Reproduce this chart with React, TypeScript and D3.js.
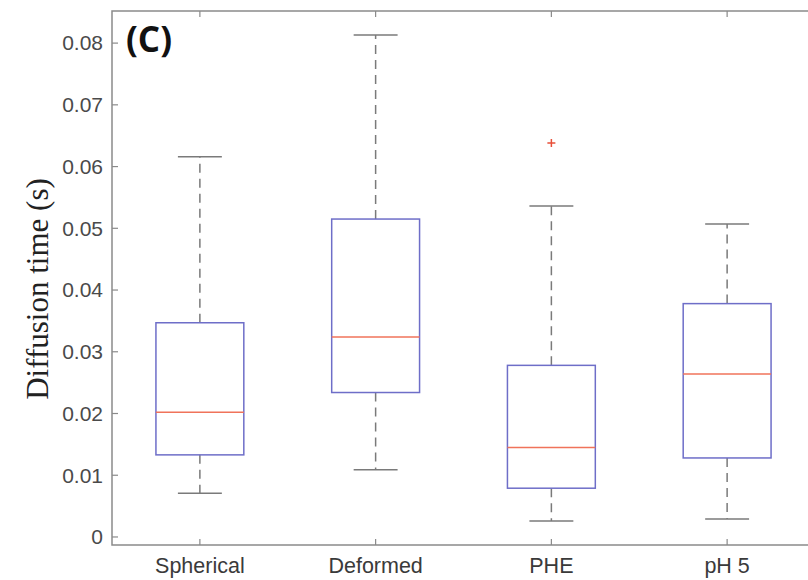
import { useEffect, useRef } from 'react';
import * as d3 from 'd3';

const categories = ['Spherical', 'Deformed', 'PHE', 'pH 5'];
const whiskerLow = [0.0071, 0.0109, 0.0026, 0.0029];
const q1 = [0.0133, 0.0234, 0.0079, 0.0128];
const median = [0.0202, 0.0324, 0.0145, 0.0264];
const q3 = [0.0347, 0.0515, 0.0278, 0.0378];
const whiskerHigh = [0.0616, 0.0813, 0.0536, 0.0507];
const outliers = [{ cat: 'PHE', value: 0.0638 }];
const yTicks = [0, 0.01, 0.02, 0.03, 0.04, 0.05, 0.06, 0.07, 0.08];

const W = 808;
const H = 580;

const App = () => {
  const svgRef = useRef<SVGSVGElement>(null);

  useEffect(() => {
    const svg = d3.select(svgRef.current);
    svg.selectAll('*').remove();

    const left = 112;
    const right = 815;
    const top = 11;
    const bottom = 545;

    // MATLAB boxplot: groups at 1..n, xlim [0.5, n+0.5]
    const x = d3.scaleLinear().domain([0.5, categories.length + 0.5]).range([left, right]);
    const y = d3.scaleLinear().domain([-0.0013, 0.0852]).range([bottom, top]);
    const boxW = x(1.5) - x(1);

    const axisColor = '#8a8a8a';
    const whiskerColor = '#7a7a7a';
    const boxColor = '#6e6ec8';
    const medColor = '#f0735a';
    const tickLen = 6;

    // frame
    svg.append('rect')
      .attr('x', left).attr('y', top)
      .attr('width', right - left).attr('height', bottom - top)
      .attr('fill', 'none').attr('stroke', axisColor).attr('stroke-width', 1.5);

    // y ticks (left and right, inward)
    yTicks.forEach(t => {
      svg.append('line')
        .attr('x1', left).attr('x2', left + tickLen)
        .attr('y1', y(t)).attr('y2', y(t))
        .attr('stroke', axisColor).attr('stroke-width', 1.2);
      svg.append('line')
        .attr('x1', right).attr('x2', right - tickLen)
        .attr('y1', y(t)).attr('y2', y(t))
        .attr('stroke', axisColor).attr('stroke-width', 1.2);
      svg.append('text')
        .attr('x', left - 9)
        .attr('y', y(t))
        .attr('dy', '0.35em')
        .attr('text-anchor', 'end')
        .attr('font-family', 'Liberation Sans, Arial, sans-serif')
        .attr('font-size', 21)
        .attr('fill', '#4a4a4a')
        .text(t === 0 ? '0' : d3.format('.2f')(t));
    });

    // x ticks (bottom and top, inward) + labels
    categories.forEach((c, i) => {
      const cx = x(i + 1);
      svg.append('line')
        .attr('x1', cx).attr('x2', cx)
        .attr('y1', bottom).attr('y2', bottom - tickLen)
        .attr('stroke', axisColor).attr('stroke-width', 1.2);
      svg.append('line')
        .attr('x1', cx).attr('x2', cx)
        .attr('y1', top).attr('y2', top + tickLen)
        .attr('stroke', axisColor).attr('stroke-width', 1.2);
      svg.append('text')
        .attr('x', cx)
        .attr('y', 573)
        .attr('text-anchor', 'middle')
        .attr('font-family', 'Liberation Sans, Arial, sans-serif')
        .attr('font-size', 21.5)
        .attr('fill', '#3a3a3a')
        .text(c);
    });

    // boxes
    categories.forEach((c, i) => {
      const cx = x(i + 1);
      const g = svg.append('g');

      // whiskers
      g.append('line')
        .attr('x1', cx).attr('x2', cx)
        .attr('y1', y(q3[i])).attr('y2', y(whiskerHigh[i]))
        .attr('stroke', whiskerColor).attr('stroke-width', 1.5)
        .attr('stroke-dasharray', '9,6');
      g.append('line')
        .attr('x1', cx).attr('x2', cx)
        .attr('y1', y(q1[i])).attr('y2', y(whiskerLow[i]))
        .attr('stroke', whiskerColor).attr('stroke-width', 1.5)
        .attr('stroke-dasharray', '9,6');
      [whiskerHigh[i], whiskerLow[i]].forEach(v => {
        g.append('line')
          .attr('x1', cx - boxW / 4).attr('x2', cx + boxW / 4)
          .attr('y1', y(v)).attr('y2', y(v))
          .attr('stroke', whiskerColor).attr('stroke-width', 1.5);
      });

      // box
      g.append('rect')
        .attr('x', cx - boxW / 2)
        .attr('y', y(q3[i]))
        .attr('width', boxW)
        .attr('height', y(q1[i]) - y(q3[i]))
        .attr('fill', 'none')
        .attr('stroke', boxColor)
        .attr('stroke-width', 1.5);

      // median
      g.append('line')
        .attr('x1', cx - boxW / 2).attr('x2', cx + boxW / 2)
        .attr('y1', y(median[i])).attr('y2', y(median[i]))
        .attr('stroke', medColor).attr('stroke-width', 1.5);
    });

    // outliers
    outliers.forEach(o => {
      const cx = x(categories.indexOf(o.cat) + 1);
      const cy = y(o.value);
      svg.append('path')
        .attr('d', `M${cx - 4},${cy}H${cx + 4}M${cx},${cy - 4}V${cy + 4}`)
        .attr('stroke', '#e8503a').attr('stroke-width', 1.5);
    });

    // panel label
    svg.append('text')
      .attr('x', 126)
      .attr('y', 52)
      .attr('font-family', 'Open Sans, Noto Sans, sans-serif')
      .attr('font-weight', 'bold')
      .attr('font-size', 35)
      .attr('fill', '#111')
      .text('(C)');

    // y axis title
    svg.append('text')
      .attr('transform', `translate(48,289) rotate(-90)`)
      .attr('text-anchor', 'middle')
      .attr('font-family', 'Liberation Serif, Times New Roman, serif')
      .attr('font-size', 31)
      .attr('fill', '#222')
      .text('Diffusion time (s)');
  }, []);

  return (
    <svg
      ref={svgRef}
      width={W}
      height={H}
      style={{ position: 'absolute', left: 0, top: 0, background: '#fff' }}
    />
  );
};

export default App;
